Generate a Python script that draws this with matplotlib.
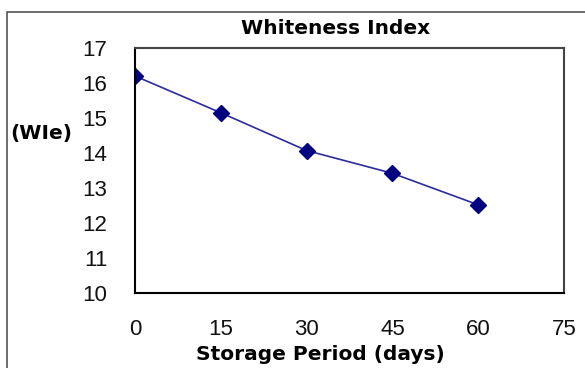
import matplotlib.pyplot as plt
from matplotlib.patches import Rectangle

days = [0, 15, 30, 45, 60]
wie = [16.2, 15.15, 14.07, 13.42, 12.52]
x_ticks = [0, 15, 30, 45, 60, 75]
y_ticks = [10, 11, 12, 13, 14, 15, 16, 17]

plt.rcParams['font.family'] = ['Liberation Sans', 'DejaVu Sans']

fig = plt.figure(figsize=(5.85, 3.68), dpi=100)
W, H = 585, 368

# outer chart frame (only top and left edges show)
fig.add_artist(Rectangle((7 / W, -0.1), 1.2, (1 - 12 / H) + 0.1, transform=fig.transFigure,
                         fill=False, edgecolor='#555555', lw=1.2))

ax = fig.add_axes([135 / W, 1 - 293 / H, (564 - 135) / W, (293 - 48) / H])
ax.plot(days, wie, color='#2b2ba0', lw=1.2, marker='D', markersize=8,
        markerfacecolor='#000080', markeredgecolor='#000080')

ax.set_xlim(0, 75)
ax.set_ylim(10, 17)
ax.set_xticks(x_ticks)
ax.set_yticks(y_ticks)
ax.tick_params(length=0, labelsize=16, labelcolor='#111111')
ax.tick_params(axis='y', pad=20)
ax.tick_params(axis='x', pad=19)
for side in ['left', 'bottom']:
    ax.spines[side].set_color('black')
    ax.spines[side].set_linewidth(1.5)
for side in ['top', 'right']:
    ax.spines[side].set_color('#444444')
    ax.spines[side].set_linewidth(1.5)

bold = dict(ha='center', va='center', fontsize=14.5, fontweight='bold',
            family='DejaVu Sans')
fig.text(336 / W, 1 - 28 / H, 'Whiteness Index', **bold)
fig.text(41 / W, 1 - 134 / H, '(WIe)', **bold)
fig.text(320 / W, 1 - 354 / H, 'Storage Period (days)', **bold)

fig.savefig('out.png', dpi=100)
